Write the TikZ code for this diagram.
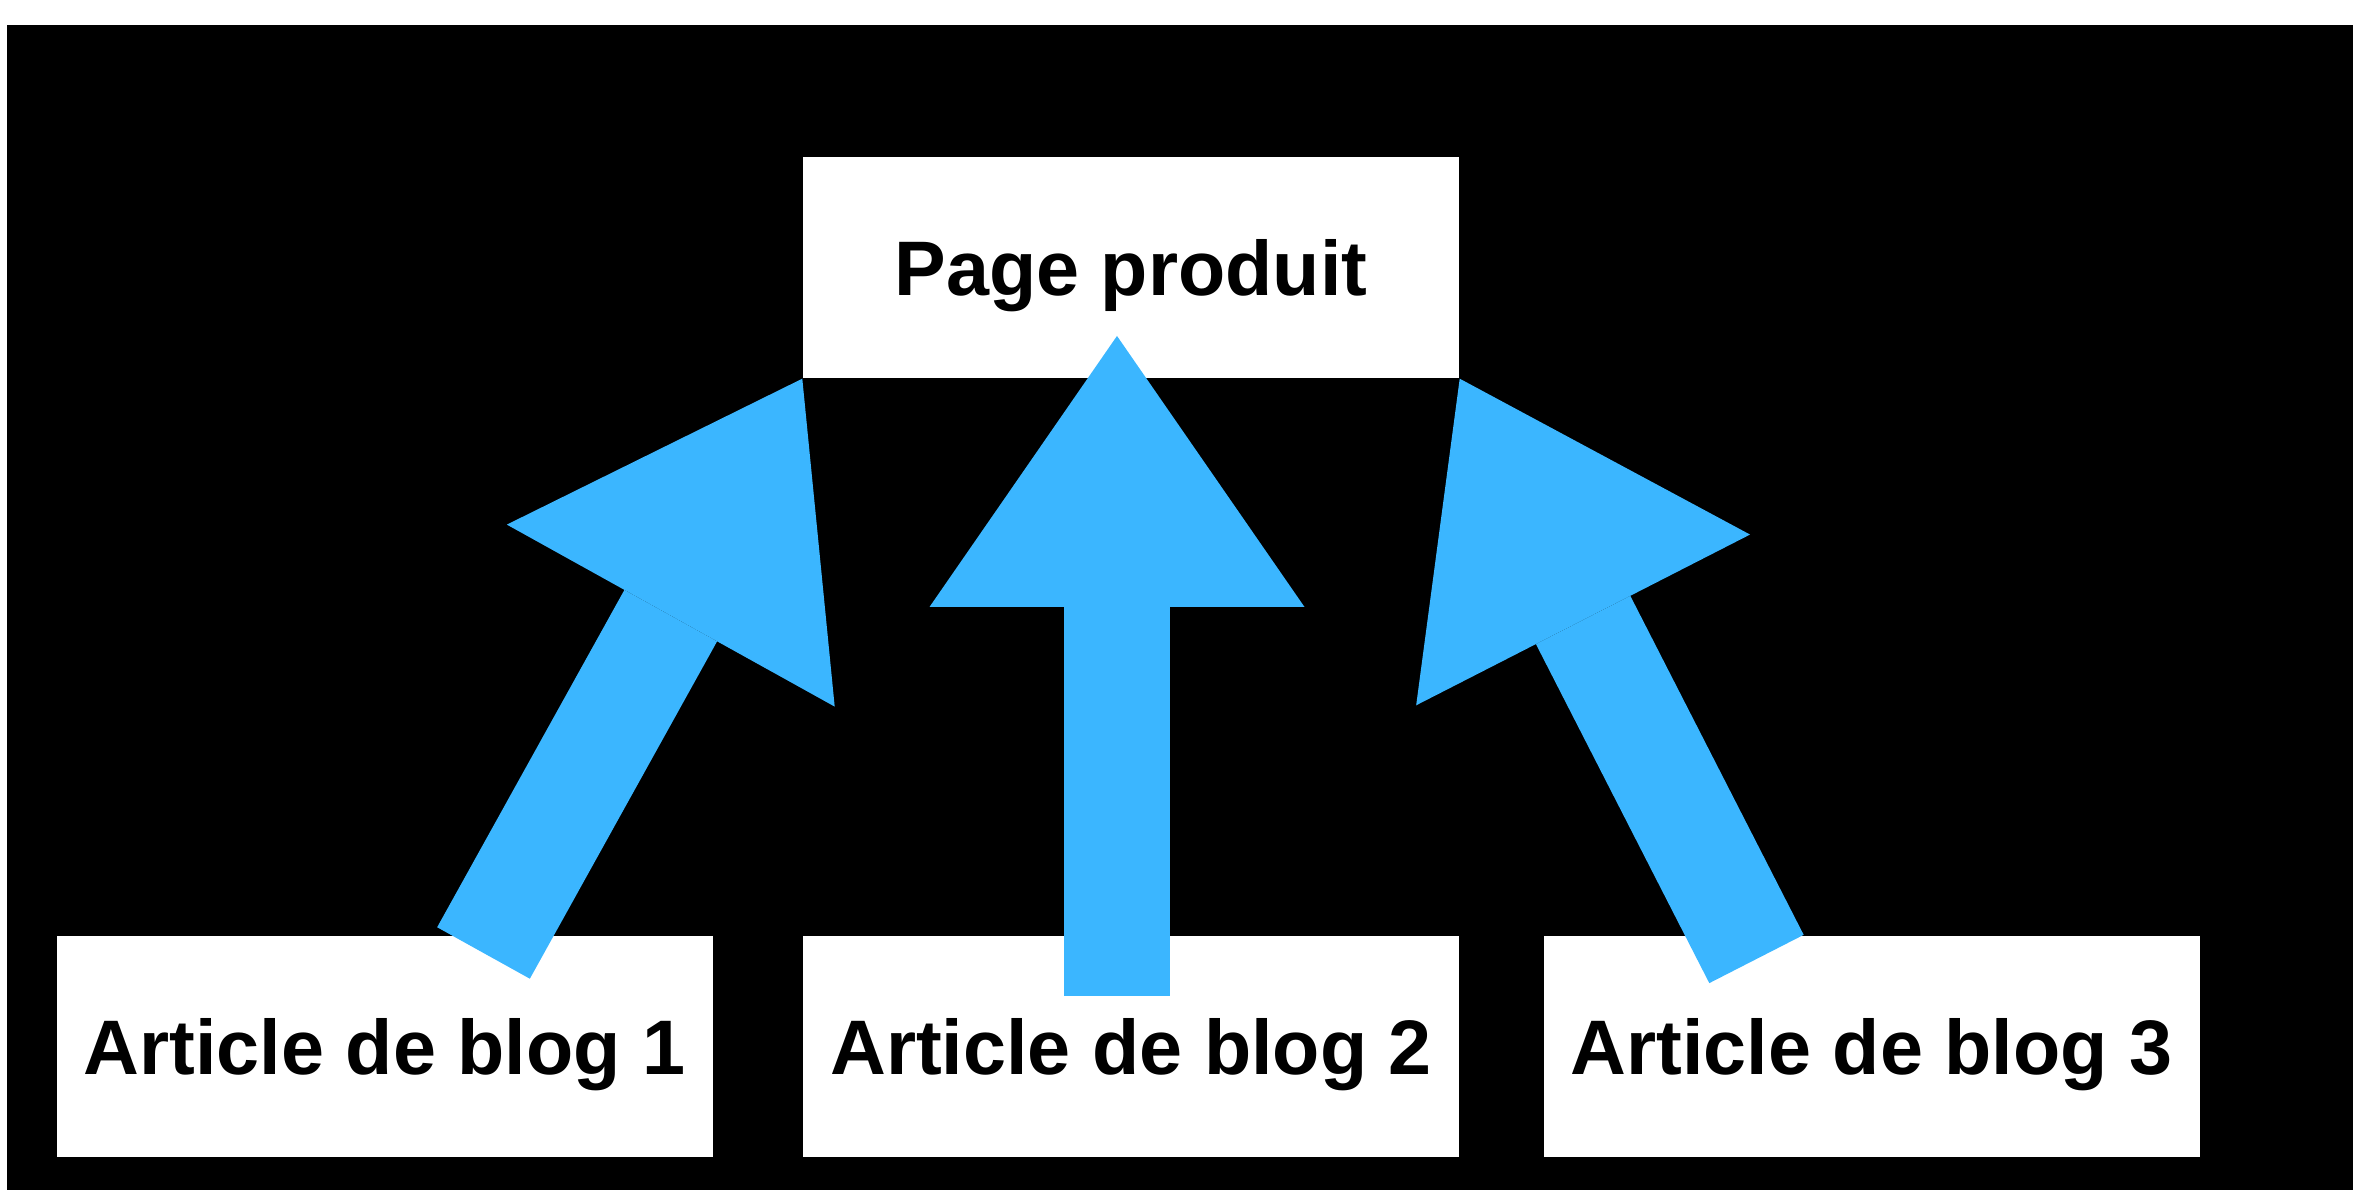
\documentclass[tikz,border=0pt]{standalone}
\usepackage{fontspec}
\setmainfont{Liberation Sans}
\usetikzlibrary{arrows.meta}
\definecolor{arrowblue}{RGB}{59,182,255}
\begin{document}
\begin{tikzpicture}[
  box/.style={shape=rectangle,fill=white,minimum width=6.56cm,minimum height=2.21cm,
    inner sep=0pt,text height=15.75pt,text depth=0pt,font=\fontsize{22}{26}\selectfont\bfseries},
  bigarrow/.style={draw=arrowblue,line width=1.06cm,
    -{Triangle[width=3.75cm,length=2.71cm,line width=0pt]}}]
  \useasboundingbox (0,0) rectangle (23.63,11.90);
  \fill[black] (0.07,0) rectangle (23.53,11.65);
  \node[box] (page) at (11.31,9.225) {Page produit};
  \node[box] (blog1) at (3.845,1.435) {Article de blog 1};
  \node[box] (blog2) at (11.31,1.435) {Article de blog 2};
  \node[box] (blog3) at (18.715,1.435) {Article de blog 3};
  \coordinate (t1) at (4.835,2.37);
  \coordinate (t2) at (11.17,1.94);
  \coordinate (h2) at (11.17,8.54);
  \coordinate (t3) at (17.565,2.31);
  \draw[bigarrow] (t1) -- (page.south west);
  \draw[bigarrow] (t2) -- (h2);
  \draw[bigarrow] (t3) -- (page.south east);
\end{tikzpicture}
\end{document}
